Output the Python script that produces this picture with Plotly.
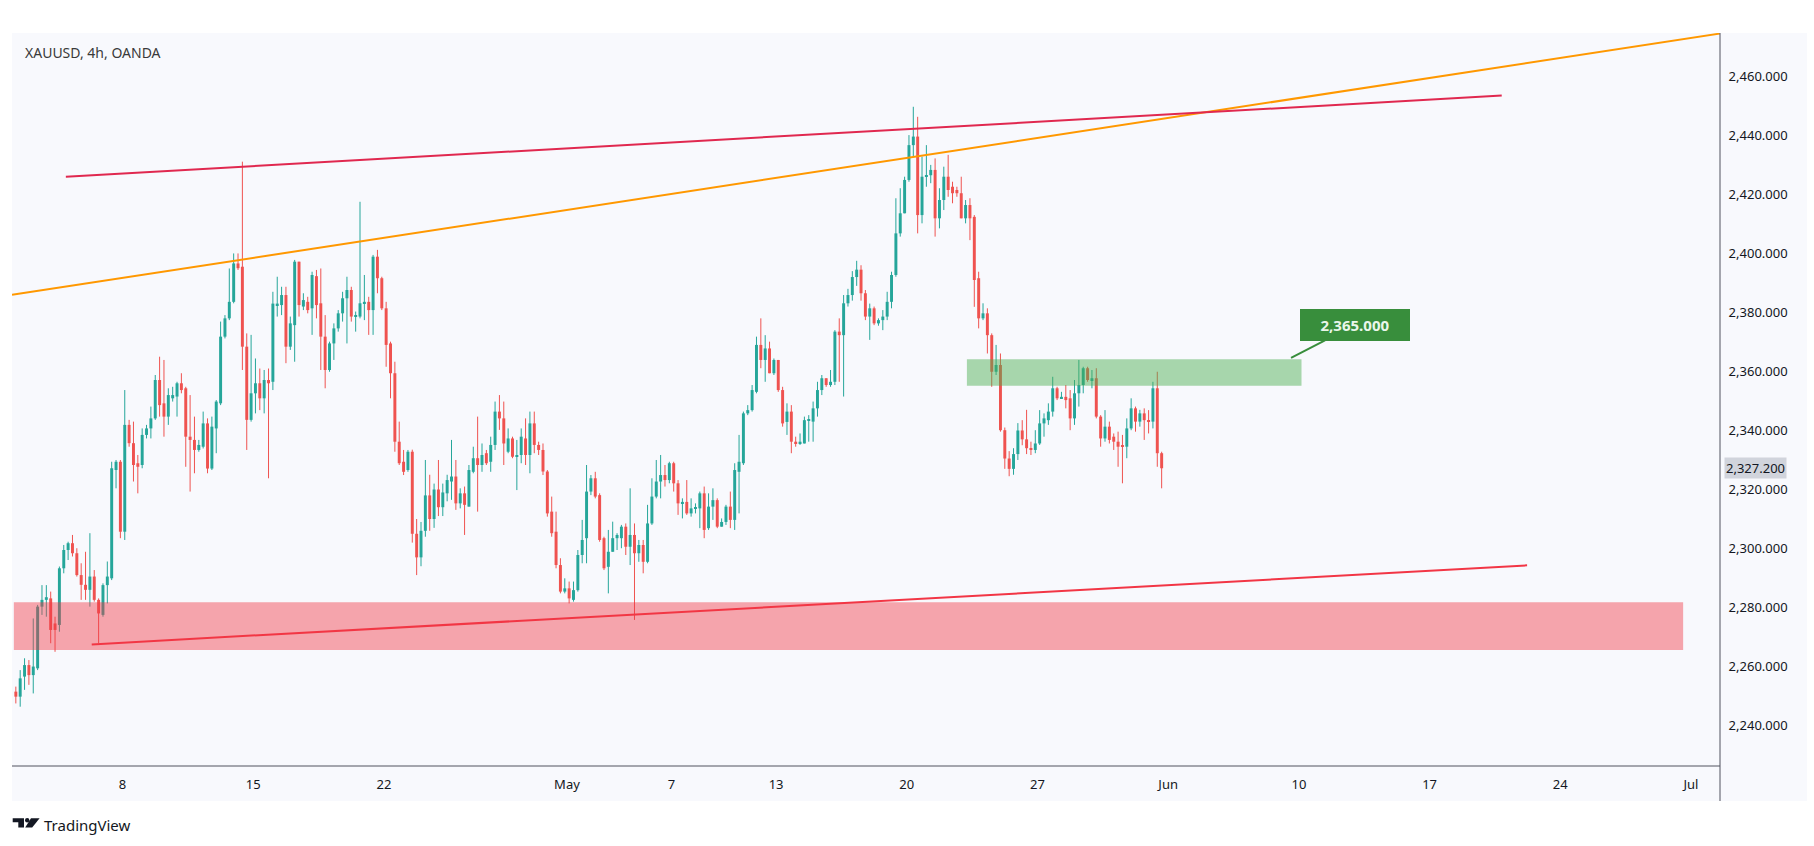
import numpy as np
import plotly.graph_objects as go

# ---------------- data ----------------
SYMBOL_LABEL = "XAUUSD, 4h, OANDA"
FIRST_BAR = 5          # index of first visible 4h bar counted from 2024-04-01
BARS_PER_DAY = 6
SESSION_START = "2024-04-01"

opens = [
    2251.5, 2249.8, 2256.6, 2260.5, 2257.1, 2259.4, 2280.3, 2282.6, 2283.1, 2274.6, 2274.1, 2293.3, 2299.5, 2301.8, 2298.4, 2291.0, 2287.7, 2286.0, 2290.5, 2282.6, 2277.5, 2287.6, 2289.9, 2326.6, 2329.4, 2305.7, 2341.9, 2335.7, 2328.9, 2328.3, 2338.5, 2340.7, 2344.1,
    2357.1, 2349.2, 2344.7, 2350.9, 2351.5, 2356.0, 2354.3, 2337.9, 2336.8, 2333.4, 2334.5, 2342.4, 2327.1, 2340.7, 2349.2, 2371.8, 2378.0, 2383.6, 2396.6, 2395.5, 2368.4, 2343.6, 2352.6, 2356.0, 2350.9, 2357.1, 2356.5, 2382.5, 2382.5, 2385.9, 2368.4, 2375.7, 2397.2,
    2382.0, 2383.6, 2381.4, 2392.3, 2383.1, 2371.8, 2360.5, 2369.5, 2374.6, 2379.7, 2384.8, 2387.6, 2378.6, 2378.6, 2383.1, 2383.6, 2380.8, 2398.9, 2391.6, 2381.4, 2369.5, 2359.4, 2336.2, 2329.4, 2326.6,
    2332.8, 2305.0, 2297.0, 2306.0, 2318.0, 2310.0, 2320.0, 2314.0,
    2318.7, 2322.7, 2324.4, 2315.3, 2318.7, 2314.2, 2326.0, 2330.6, 2328.3, 2332.3, 2329.4, 2335.1, 2346.4, 2344.1, 2332.8, 2337.3, 2331.1, 2331.7, 2337.3, 2331.7, 2342.4, 2335.1, 2333.4, 2326.1, 2312.5, 2305.7, 2294.4, 2285.4, 2286.5, 2282.6, 2285.9, 2297.8, 2303.5, 2319.3,
    2323.8, 2318.1, 2303.5, 2293.8, 2298.9, 2303.5, 2303.5, 2307.4, 2300.6, 2304.6, 2298.4, 2301.2, 2295.5, 2308.5, 2317.6, 2322.7, 2324.9, 2323.2, 2328.9, 2322.1, 2315.3, 2315.8, 2311.9, 2313.6, 2313.6, 2318.7, 2306.9, 2314.2, 2316.4, 2307.4, 2309.0, 2314.2, 2309.7,
    2326.0, 2328.9, 2345.8, 2346.9, 2353.1, 2369.0, 2363.9, 2367.8, 2359.4, 2363.9, 2353.7, 2342.9, 2346.4, 2336.2, 2335.6, 2335.6, 2343.5, 2343.0, 2347.5, 2353.7, 2357.7, 2355.4, 2356.5, 2373.5, 2372.3,
    2383.1, 2385.9, 2392.0, 2394.5, 2386.5, 2378.6, 2381.4, 2376.3, 2377.4,
    2378.6, 2383.6, 2392.7, 2406.8, 2413.6, 2424.9, 2436.7, 2439.6, 2413.0, 2426.0, 2426.5, 2428.3, 2411.9, 2418.1, 2426.0, 2422.6, 2421.5, 2420.4, 2411.9, 2416.4, 2412.4, 2391.6, 2378.0, 2379.7, 2372.3, 2359.9, 2362.2,
    2340.1, 2330.5, 2327.0, 2332.0, 2340.0, 2337.0,
    2334.0, 2333.4, 2335.6, 2342.4, 2343.5, 2346.4, 2354.3, 2350.9, 2351.4, 2350.9, 2344.1, 2352.6, 2355.4, 2361.1, 2357.1, 2357.7, 2344.7, 2337.3, 2341.3, 2337.9, 2336.2, 2335.0, 2334.5, 2340.7, 2347.5, 2343.0, 2345.8, 2343.5, 2343.0, 2354.3, 2332.3,
]
highs = [
    2253.2, 2258.8, 2262.8, 2262.2, 2276.3, 2280.9, 2287.6, 2287.6, 2285.4, 2276.9, 2293.9, 2301.2, 2302.3, 2304.6, 2300.1, 2295.0, 2298.9, 2305.2, 2292.7, 2283.1, 2288.2, 2295.6, 2329.4, 2330.0, 2330.0, 2353.7, 2343.6, 2343.0, 2331.7, 2340.7, 2341.9, 2348.1, 2358.8,
    2365.0, 2363.9, 2354.3, 2354.8, 2356.5, 2359.4, 2354.8, 2352.0, 2344.7, 2336.8, 2346.4, 2344.1, 2344.7, 2350.3, 2376.9, 2379.1, 2394.9, 2400.0, 2400.0, 2431.1, 2372.9, 2372.4, 2364.4, 2361.0, 2360.5, 2361.0, 2387.0, 2392.1, 2388.7, 2388.7, 2378.6, 2397.8, 2397.2,
    2386.5, 2385.3, 2393.8, 2394.4, 2394.9, 2379.1, 2370.1, 2376.3, 2380.8, 2387.0, 2392.1, 2388.7, 2380.3, 2417.5, 2392.7, 2385.3, 2399.5, 2401.2, 2392.1, 2383.6, 2370.1, 2363.3, 2343.0, 2333.4, 2333.4,
    2333.5, 2310.0, 2309.0, 2330.0, 2325.0, 2322.0, 2330.0, 2322.0,
    2325.0, 2336.8, 2330.0, 2320.4, 2321.0, 2328.3, 2334.5, 2344.7, 2335.6, 2333.4, 2337.9, 2349.8, 2352.0, 2349.8, 2340.7, 2337.9, 2336.8, 2340.7, 2344.1, 2346.4, 2346.4, 2336.2, 2335.6, 2326.6, 2317.6, 2312.5, 2296.7, 2289.9, 2288.8, 2288.8, 2299.5, 2309.7, 2328.3, 2324.9,
    2326.0, 2318.7, 2304.0, 2306.3, 2309.1, 2305.2, 2308.0, 2308.5, 2320.4, 2308.5, 2302.9, 2302.9, 2314.8, 2323.8, 2330.0, 2331.7, 2328.3, 2329.4, 2329.4, 2323.2, 2317.0, 2323.2, 2317.0, 2315.3, 2319.3, 2321.0, 2318.7, 2320.4, 2317.0, 2310.2, 2314.8, 2319.3, 2328.9,
    2338.5, 2346.4, 2348.6, 2355.4, 2371.8, 2378.0, 2372.3, 2370.1, 2364.4, 2363.9, 2354.8, 2349.2, 2348.6, 2337.9, 2339.0, 2344.7, 2345.2, 2349.8, 2356.5, 2358.8, 2357.7, 2360.5, 2374.0, 2378.0, 2385.9,
    2388.0, 2394.0, 2397.5, 2396.0, 2387.6, 2383.0, 2382.0, 2378.0, 2380.8,
    2387.0, 2393.8, 2418.7, 2422.1, 2426.0, 2440.1, 2449.7, 2446.3, 2432.8, 2436.7, 2430.0, 2432.2, 2422.1, 2429.4, 2433.4, 2424.3, 2422.6, 2426.0, 2418.1, 2418.7, 2413.0, 2393.8, 2383.1, 2381.4, 2372.9, 2369.0, 2366.1,
    2341.0, 2333.0, 2334.0, 2342.5, 2343.5, 2347.0,
    2336.2, 2340.1, 2346.9, 2345.8, 2349.2, 2358.2, 2354.8, 2353.1, 2355.4, 2353.7, 2357.1, 2363.9, 2361.6, 2361.6, 2360.5, 2361.1, 2345.2, 2346.9, 2343.0, 2339.0, 2339.6, 2338.5, 2344.1, 2350.9, 2348.1, 2347.0, 2347.5, 2346.9, 2356.5, 2359.9, 2332.8,
]
lows = [
    2247.5, 2246.4, 2252.1, 2253.8, 2250.9, 2258.8, 2277.5, 2276.9, 2267.9, 2265.0, 2271.8, 2291.6, 2296.1, 2297.3, 2290.5, 2282.6, 2282.6, 2280.3, 2282.0, 2267.9, 2276.9, 2281.4, 2289.3, 2320.4, 2303.5, 2302.9, 2334.5, 2322.7, 2318.7, 2327.2, 2337.3, 2337.3, 2343.6,
    2344.7, 2337.9, 2341.9, 2349.8, 2344.7, 2352.6, 2327.7, 2319.3, 2325.5, 2332.8, 2333.9, 2325.5, 2326.6, 2332.3, 2348.6, 2371.2, 2377.4, 2383.1, 2394.4, 2360.5, 2333.4, 2343.0, 2345.8, 2346.9, 2345.8, 2323.8, 2353.7, 2378.6, 2379.1, 2362.8, 2367.3, 2363.3, 2378.6,
    2380.8, 2379.7, 2372.4, 2378.0, 2360.5, 2354.3, 2359.9, 2363.9, 2373.5, 2376.9, 2369.5, 2376.9, 2373.5, 2378.0, 2377.4, 2372.4, 2372.4, 2386.5, 2380.8, 2361.6, 2350.9, 2332.8, 2328.3, 2324.9, 2326.0,
    2302.0, 2291.0, 2294.0, 2304.0, 2306.0, 2307.0, 2311.0, 2311.0,
    2316.0, 2316.5, 2313.1, 2313.6, 2304.6, 2314.2, 2325.5, 2312.5, 2326.0, 2328.3, 2326.0, 2333.4, 2340.2, 2328.3, 2332.3, 2330.6, 2319.8, 2328.9, 2328.3, 2325.5, 2332.3, 2331.7, 2324.9, 2310.8, 2304.0, 2293.3, 2284.8, 2284.8, 2281.4, 2282.0, 2285.4, 2295.0, 2295.0, 2318.1,
    2317.0, 2302.3, 2292.7, 2284.8, 2298.9, 2299.5, 2300.1, 2297.8, 2294.4, 2275.8, 2295.5, 2291.6, 2295.0, 2308.0, 2317.0, 2317.0, 2321.0, 2322.1, 2319.3, 2311.4, 2310.2, 2311.4, 2310.8, 2311.9, 2306.9, 2303.5, 2306.3, 2309.7, 2306.9, 2307.4, 2308.0, 2306.9, 2306.3,
    2311.9, 2328.3, 2345.2, 2346.4, 2352.6, 2361.1, 2356.5, 2359.4, 2358.8, 2353.1, 2341.3, 2338.5, 2332.3, 2334.5, 2335.1, 2335.6, 2336.2, 2336.2, 2344.7, 2352.0, 2354.8, 2354.8, 2355.4, 2356.5, 2351.5,
    2382.0, 2384.0, 2389.0, 2384.0, 2377.4, 2370.7, 2375.7, 2375.5, 2374.0,
    2377.4, 2381.4, 2392.1, 2405.7, 2413.6, 2424.3, 2432.8, 2406.8, 2410.2, 2422.6, 2423.8, 2405.7, 2408.5, 2414.7, 2419.2, 2417.0, 2419.2, 2411.9, 2410.2, 2404.5, 2381.9, 2374.6, 2377.4, 2366.1, 2354.8, 2358.8, 2339.6,
    2327.0, 2324.5, 2325.0, 2330.0, 2335.0, 2332.0,
    2331.7, 2332.3, 2335.1, 2337.9, 2341.9, 2344.7, 2350.3, 2350.9, 2347.5, 2340.1, 2341.9, 2348.1, 2352.6, 2356.5, 2354.3, 2344.1, 2334.5, 2336.2, 2335.6, 2333.4, 2327.7, 2322.1, 2330.6, 2340.1, 2339.6, 2341.3, 2336.8, 2339.0, 2340.7, 2327.7, 2320.4,
]
closes = [
    2249.8, 2256.0, 2260.5, 2257.1, 2260.0, 2280.3, 2282.6, 2283.5, 2272.4, 2272.4, 2293.3, 2299.5, 2301.8, 2298.4, 2291.0, 2287.7, 2286.0, 2290.5, 2282.6, 2278.0, 2287.6, 2290.5, 2327.2, 2329.4, 2305.7, 2341.9, 2335.7, 2328.3, 2327.7, 2338.5, 2340.7, 2344.1, 2357.1,
    2348.6, 2344.7, 2352.0, 2352.0, 2356.0, 2353.7, 2337.9, 2336.8, 2333.4, 2335.1, 2342.4, 2327.1, 2341.3, 2349.8, 2371.8, 2378.0, 2383.6, 2396.6, 2395.0, 2368.4, 2343.6, 2352.6, 2356.0, 2350.9, 2357.1, 2356.0, 2383.0, 2383.0, 2385.9, 2368.4, 2376.3, 2397.2, 2382.5,
    2384.2, 2380.8, 2392.7, 2382.5, 2371.8, 2360.5, 2369.5, 2374.6, 2379.7, 2384.8, 2387.6, 2378.6, 2379.1, 2383.1, 2383.6, 2380.8, 2398.9, 2391.6, 2381.4, 2369.0, 2359.4, 2336.2, 2328.9, 2326.0, 2332.8,
    2305.0, 2297.0, 2306.0, 2318.0, 2310.0, 2320.0, 2314.0, 2319.0,
    2323.2, 2324.4, 2315.3, 2318.7, 2314.8, 2326.6, 2330.6, 2328.3, 2331.7, 2328.9, 2335.1, 2346.4, 2344.1, 2335.6, 2337.3, 2331.1, 2331.7, 2337.9, 2331.7, 2342.4, 2335.1, 2333.4, 2326.1, 2311.9, 2305.2, 2294.4, 2285.4, 2286.5, 2283.1, 2285.9, 2297.8, 2302.9, 2319.3, 2323.8,
    2317.6, 2302.9, 2293.3, 2298.9, 2303.5, 2304.6, 2307.4, 2300.6, 2304.6, 2298.4, 2301.2, 2295.5, 2308.5, 2317.6, 2322.7, 2324.9, 2323.2, 2328.9, 2322.1, 2315.3, 2315.8, 2311.9, 2313.6, 2314.0, 2318.7, 2306.3, 2314.2, 2316.4, 2307.4, 2309.0, 2314.2, 2309.7, 2326.6,
    2329.4, 2345.8, 2346.9, 2353.7, 2369.0, 2363.9, 2367.8, 2359.4, 2363.9, 2353.7, 2342.4, 2346.4, 2336.2, 2335.6, 2336.2, 2343.5, 2343.9, 2347.5, 2353.7, 2357.7, 2355.4, 2356.5, 2373.5, 2372.3, 2383.1,
    2385.9, 2392.0, 2394.5, 2386.5, 2378.6, 2381.4, 2376.3, 2377.4, 2378.6,
    2383.6, 2392.7, 2406.8, 2413.6, 2424.9, 2436.7, 2439.6, 2413.0, 2426.0, 2426.5, 2428.3, 2411.9, 2418.1, 2426.0, 2421.5, 2420.4, 2420.4, 2411.9, 2416.4, 2411.9, 2391.0, 2378.0, 2379.7, 2372.3, 2359.9, 2362.2, 2340.1,
    2330.5, 2327.0, 2332.0, 2340.0, 2337.0, 2334.0,
    2333.4, 2335.6, 2342.4, 2344.1, 2346.4, 2354.3, 2350.9, 2351.4, 2350.3, 2344.1, 2352.6, 2355.4, 2361.1, 2357.1, 2357.7, 2344.7, 2337.3, 2341.3, 2336.8, 2336.2, 2334.5, 2334.5, 2340.7, 2347.5, 2343.0, 2345.8, 2343.5, 2343.0, 2354.3, 2332.3, 2327.2,
]

tick_dates = ["2024-04-08", "2024-04-15", "2024-04-22", "2024-05-01", "2024-05-07", "2024-05-13",
              "2024-05-20", "2024-05-27", "2024-06-03", "2024-06-10", "2024-06-17", "2024-06-24", "2024-07-01"]
tick_labels = ["8", "15", "22", "May", "7", "13", "20", "27", "Jun", "10", "17", "24", "Jul"]
price_ticks = [2240, 2260, 2280, 2300, 2320, 2340, 2360, 2380, 2400, 2420, 2440, 2460]

# zones (trading-day span, price span)
support_zone_days = [0.84, 64.7]
support_zone_prices = [2265.6, 2281.8]
resist_zone_days = [37.3, 50.1]
resist_zone_prices = [2355.2, 2364.1]
# trend lines (trading-day, price)
orange_line_days = [0.77, 66.1]
orange_line_prices = [2386.0, 2474.5]
upper_red_days = [2.83, 57.76]
upper_red_prices = [2426.0, 2453.5]
lower_red_days = [3.82, 58.73]
lower_red_prices = [2267.5, 2294.3]
last_price = 2327.2
callout_value = 2365.0
callout_tip = [49.7, 2364.6]

# ---------------- geometry ----------------
W, H = 1814, 846
PL, PR, PT, PB = 12, 1720, 33, 766     # plot area in pixels
X_RANGE = [0.77, 66.11]
Y_RANGE = [2226.3, 2474.7]
UP, DOWN = "#26a69a", "#ef5350"
TXT = "#131722"
FONT = "Noto Sans, Open Sans, DejaVu Sans, sans-serif"
PANEL = "#f8f9fd"

def px(x):
    return (x - PL) / (PR - PL)

def py(y):
    return (PB - y) / (PB - PT)

n = min(len(opens), len(highs), len(lows), len(closes))
o = np.array(opens[:n]); h = np.array(highs[:n]); l = np.array(lows[:n]); c = np.array(closes[:n])
xs = (FIRST_BAR + np.arange(n) + 0.5) / BARS_PER_DAY
up = c >= o

fig = go.Figure()
body_w = 0.68 / BARS_PER_DAY
for mask, col in ((up, UP), (~up, DOWN)):
    wx, wy = [], []
    for xi, hi, lo in zip(xs[mask], h[mask], l[mask]):
        wx += [xi, xi, None]
        wy += [lo, hi, None]
    fig.add_trace(go.Scatter(x=wx, y=wy, mode="lines", line=dict(color=col, width=1),
                             hoverinfo="skip", showlegend=False))
    base = np.minimum(o[mask], c[mask])
    hgt = np.maximum(np.abs(c[mask] - o[mask]), 0.35)
    fig.add_trace(go.Bar(x=xs[mask], y=hgt, base=base, width=body_w, marker=dict(color=col, line=dict(width=0)),
                         hoverinfo="skip", showlegend=False))

# zones
fig.add_shape(type="rect", xref="x", yref="y", x0=support_zone_days[0], x1=support_zone_days[1],
              y0=support_zone_prices[0], y1=support_zone_prices[1],
              fillcolor="rgba(242,54,69,0.44)", line=dict(width=0))
fig.add_shape(type="rect", xref="x", yref="y", x0=resist_zone_days[0], x1=resist_zone_days[1],
              y0=resist_zone_prices[0], y1=resist_zone_prices[1],
              fillcolor="rgba(76,175,80,0.47)", line=dict(width=0))

# trend lines
for dx, dy, col in ((orange_line_days, orange_line_prices, "#ff9800"),
                    (upper_red_days, upper_red_prices, "#e0284f"),
                    (lower_red_days, lower_red_prices, "#f23645")):
    fig.add_trace(go.Scatter(x=dx, y=dy, mode="lines", line=dict(color=col, width=2),
                             hoverinfo="skip", showlegend=False))

# panel background and frame lines
fig.add_shape(type="rect", xref="paper", yref="paper", x0=px(12), x1=px(1807), y0=py(801), y1=py(33),
              fillcolor=PANEL, line=dict(width=0), layer="below")
fig.add_shape(type="line", xref="paper", yref="paper", x0=px(1720), x1=px(1720), y0=py(801), y1=py(33),
              line=dict(color="#50535e", width=1))
fig.add_shape(type="line", xref="paper", yref="paper", x0=px(12), x1=px(1720), y0=py(766), y1=py(766),
              line=dict(color="#50535e", width=1))

# TradingView logo glyph
def path(pts):
    return "M " + " L ".join(f"{px(a):.5f},{py(b):.5f}" for a, b in pts) + " Z"

logo_col = TXT
fig.add_shape(type="path", xref="paper", yref="paper",
              path=path([(12.7, 818.3), (24.0, 818.3), (24.0, 827.5), (18.3, 827.5), (18.3, 822.2), (12.7, 822.2)]),
              fillcolor=logo_col, line=dict(width=0))
fig.add_shape(type="circle", xref="paper", yref="paper", x0=px(25.0), x1=px(29.4), y0=py(822.4), y1=py(818.0),
              fillcolor=logo_col, line=dict(width=0))
fig.add_shape(type="path", xref="paper", yref="paper",
              path=path([(31.0, 818.3), (39.6, 818.3), (32.2, 827.5), (25.2, 827.5)]),
              fillcolor=logo_col, line=dict(width=0))

annotations = [
    dict(text=SYMBOL_LABEL, xref="paper", yref="paper", x=px(23), y=py(53), xanchor="left", yanchor="middle",
         showarrow=False, font=dict(family=FONT, size=14, color="#3a3a3a")),
    dict(text="TradingView", xref="paper", yref="paper", x=px(42), y=py(825), xanchor="left", yanchor="middle",
         showarrow=False, font=dict(family=FONT, size=15, color=TXT)),
    dict(text=f"{last_price:,.3f}", xref="paper", yref="y", x=px(1724), y=last_price, xanchor="left", yanchor="middle",
         showarrow=False, bgcolor="#d1d4dc", borderpad=1, font=dict(family=FONT, size=13, color=TXT)),
    dict(text=f"<b>{callout_value:,.3f}</b>", xref="x", yref="y", x=callout_tip[0], y=callout_tip[1],
         showarrow=True, ax=64, ay=-33, arrowhead=0, arrowwidth=2, arrowcolor="#388e3c", standoff=0,
         width=104, height=26, bgcolor="#388e3c", bordercolor="#388e3c", borderpad=2,
         font=dict(family=FONT, size=15, color="#eaf6ea")),
]

tickvals = [float(np.busday_count(SESSION_START, d)) for d in tick_dates]

fig.update_layout(
    width=W, height=H,
    margin=dict(l=PL, r=W - PR, t=PT, b=H - PB),
    paper_bgcolor="white", plot_bgcolor=PANEL,
    barmode="overlay", showlegend=False,
    font=dict(family=FONT, size=13, color=TXT),
    annotations=annotations,
    xaxis=dict(range=X_RANGE, showgrid=False, zeroline=False, showline=False,
               tickvals=tickvals, ticktext=tick_labels, ticks="outside", ticklen=6,
               tickcolor="rgba(0,0,0,0)", tickfont=dict(family=FONT, size=13, color=TXT)),
    yaxis=dict(range=Y_RANGE, side="right", showgrid=False, zeroline=False, showline=False,
               tickvals=price_ticks, ticktext=[f"{v:,.3f}" for v in price_ticks],
               ticks="outside", ticklen=5, tickcolor="rgba(0,0,0,0)",
               tickfont=dict(family=FONT, size=13, color=TXT)),
)

fig.write_html("out.html", config={"displayModeBar": False},
               post_script="document.body.style.margin='0px';document.body.style.overflow='hidden';")
